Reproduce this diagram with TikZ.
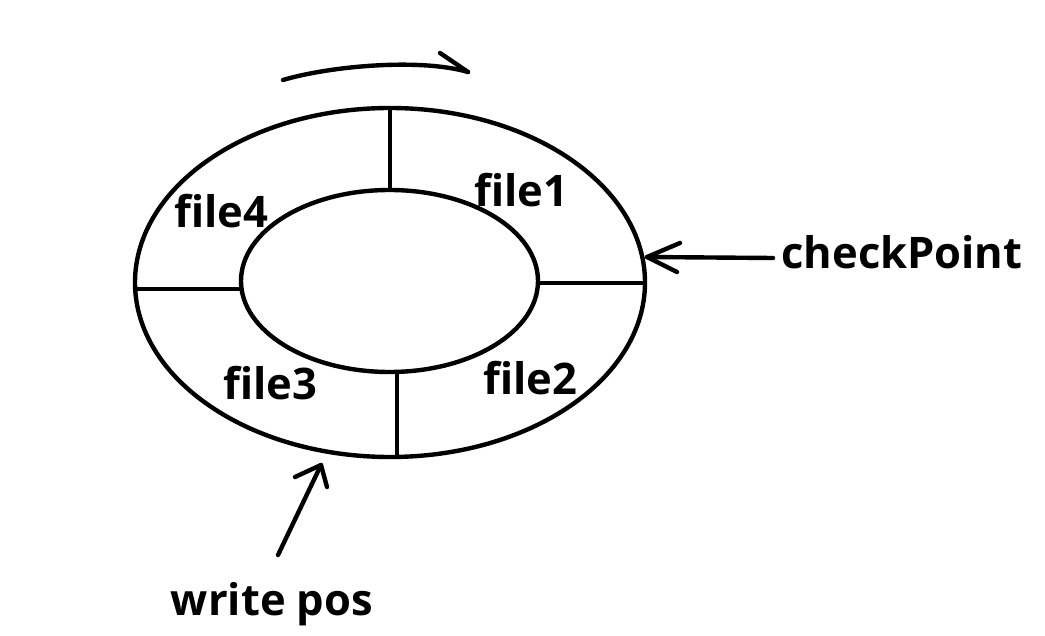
\documentclass[tikz,border=0pt]{standalone}
\usepackage{fontspec}
\setmainfont{Open Sans}
\begin{document}
\begin{tikzpicture}[x=1pt,y=-1pt,
  ink/.style={line width=4.4pt,line cap=round,line join=round,black},
  lbl/.style={anchor=base,inner sep=0pt,font=\fontsize{43.5}{50}\selectfont\bfseries}]
\useasboundingbox[fill=white] (0,0) rectangle (1045,636);
% ring
\coordinate (c) at (390,282.5);
\draw[ink] (c) ellipse [x radius=255pt, y radius=174.5pt];
\draw[ink] (389.5,281) ellipse [x radius=148.5pt, y radius=91pt];
% dividers
\coordinate (t1) at (390,108); \coordinate (t2) at (390,188);
\coordinate (l1) at (135,289); \coordinate (l2) at (241,289);
\coordinate (r1) at (540,283); \coordinate (r2) at (645,283);
\coordinate (b1) at (397,372); \coordinate (b2) at (397,457);
\draw[ink] (t1) -- (t2);
\draw[ink] (l1) -- (l2);
\draw[ink] (r1) -- (r2);
\draw[ink] (b1) -- (b2);
% labels
\node[lbl] (f1) at (521,207) {file1};
\node[lbl] (f4) at (221,228) {file4};
\node[lbl] (f3) at (270,400) {file3};
\node[lbl] (f2) at (530,395) {file2};
\node[lbl] (cp) at (902,269) {checkPoint};
\node[lbl] (wp) at (272,615) {write pos};
% rotation arrow
\coordinate (ra) at (283,80); \coordinate (rb) at (468,72); \coordinate (rc) at (440,53);
\draw[ink] (ra) .. controls (330,66) and (420,58) .. (rb);
\draw[ink] (rc) -- (rb);
% checkPoint arrow
\coordinate (ct) at (773,258); \coordinate (ch) at (647,257);
\coordinate (cu) at (680,243); \coordinate (cl) at (677,272);
\draw[ink] (ct) -- (ch);
\draw[ink] (cu) -- (ch) -- (cl);
% write pos arrow
\coordinate (wt) at (278,555); \coordinate (wh) at (321,465);
\coordinate (wl) at (295,477); \coordinate (wr) at (327,487);
\draw[ink] (wt) -- (wh);
\draw[ink] (wl) -- (wh) -- (wr);
\end{tikzpicture}
\end{document}
